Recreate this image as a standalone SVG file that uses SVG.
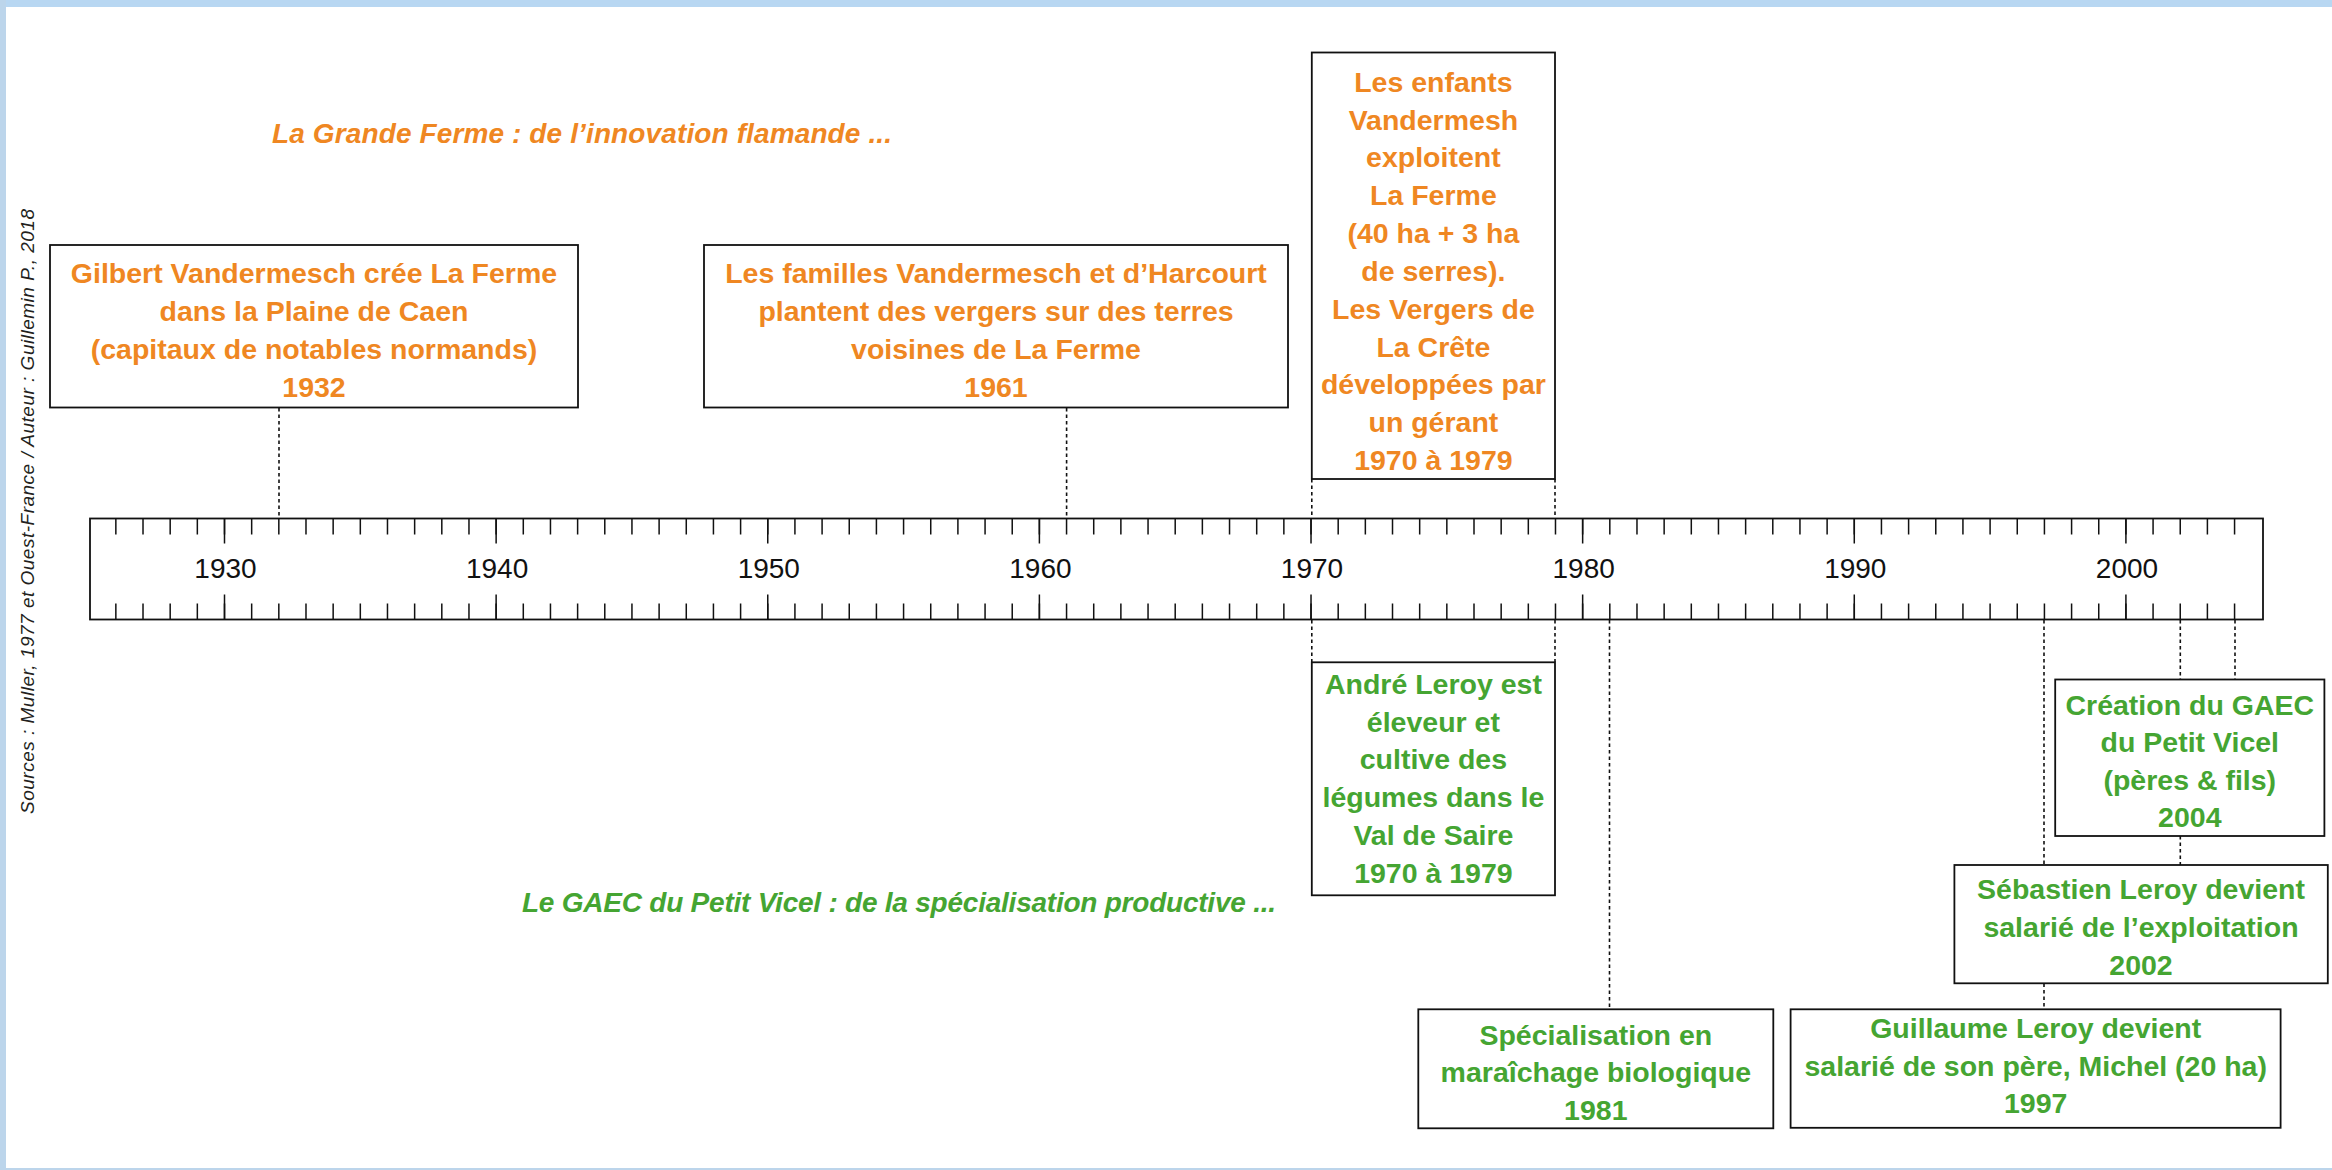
<svg xmlns="http://www.w3.org/2000/svg" width="2332" height="1170" viewBox="0 0 2332 1170">
<style>
  .box{fill:#ffffff;stroke:#111111;stroke-width:1.8}
  .or{fill:#ef8722;font-family:"Liberation Sans",Arial,sans-serif;font-weight:bold;font-size:28.5px;text-anchor:middle}
  .gr{fill:#45a532;font-family:"Liberation Sans",Arial,sans-serif;font-weight:bold;font-size:28.5px;text-anchor:middle}
  .ttl{font-family:"Liberation Sans",Arial,sans-serif;font-weight:bold;font-style:italic;font-size:28px}
  .yr{fill:#111111;font-family:"Liberation Sans",Arial,sans-serif;font-size:28px;text-anchor:middle}
  .dash{stroke:#111111;stroke-width:1.6;stroke-dasharray:3.5 3;fill:none}
  .tk{stroke:#111111;fill:none}
</style>
<rect x="0" y="0" width="2332" height="1170" fill="#ffffff"/>
<!-- frame -->
<rect x="0" y="0" width="2332" height="7" fill="#b8d7f2"/>
<rect x="0" y="0" width="6" height="1170" fill="#bcd5eb"/>
<rect x="0" y="1168" width="2332" height="2" fill="#bcd5eb"/>

<!-- source -->
<text id="sources" transform="translate(34,511.5) rotate(-90)" font-family="'Liberation Sans',Arial,sans-serif" font-style="italic" font-size="19" fill="#231f20" text-anchor="middle" textLength="605">Sources : Muller, 1977 et  Ouest-France / Auteur : Guillemin P., 2018</text>

<!-- titles -->
<text id="title-grande-ferme" class="ttl" x="272" y="143.3" fill="#ef8722" textLength="620">La Grande Ferme : de l’innovation flamande ...</text>
<text id="title-gaec" class="ttl" x="522" y="912.3" fill="#45a532" textLength="754">Le GAEC du Petit Vicel : de la spécialisation productive ...</text>

<!-- timeline -->
<g id="timeline">
  <rect x="90" y="518.5" width="2173" height="101" fill="#ffffff" stroke="#111111" stroke-width="1.8"/>
  <path class="tk" d="M115.1 526.5 H2236.2" stroke-width="16" stroke-dasharray="1.5 25.663"/>
  <path class="tk" d="M115.1 611.5 H2236.2" stroke-width="16" stroke-dasharray="1.5 25.663"/>
  <path class="tk" d="M223.75 531 H2127" stroke-width="25" stroke-dasharray="1.5 270.13"/>
  <path class="tk" d="M223.75 607 H2127" stroke-width="25" stroke-dasharray="1.5 270.13"/>
  <text class="yr" x="225.5" y="578">1930</text>
  <text class="yr" x="497.1" y="578">1940</text>
  <text class="yr" x="768.8" y="578">1950</text>
  <text class="yr" x="1040.4" y="578">1960</text>
  <text class="yr" x="1312" y="578">1970</text>
  <text class="yr" x="1583.7" y="578">1980</text>
  <text class="yr" x="1855.3" y="578">1990</text>
  <text class="yr" x="2127" y="578">2000</text>
</g>

<!-- connectors -->
<g id="connectors">
  <path class="dash" d="M279 408 V518"/>
  <path class="dash" d="M1066.6 408 V518"/>
  <path class="dash" d="M1311.8 479 V518"/>
  <path class="dash" d="M1555 479 V518"/>
  <path class="dash" d="M1311.8 620 V662"/>
  <path class="dash" d="M1555 620 V662"/>
  <path class="dash" d="M1609.5 620 V1009"/>
  <path class="dash" d="M2044 620 V865"/>
  <path class="dash" d="M2044 983.5 V1009"/>
  <path class="dash" d="M2180.3 620 V679.5"/>
  <path class="dash" d="M2180.3 836 V865"/>
  <path class="dash" d="M2235 620 V679.5"/>
</g>

<!-- nodes -->
<g id="node-1932">
  <rect class="box" x="50" y="245" width="528" height="162.5"/>
  <text class="or" x="314" y="283">Gilbert Vandermesch crée La Ferme</text>
  <text class="or" x="314" y="321">dans la Plaine de Caen</text>
  <text class="or" x="314" y="359">(capitaux de notables normands)</text>
  <text class="or" x="314" y="397">1932</text>
</g>
<g id="node-1961">
  <rect class="box" x="704" y="245" width="584" height="162.5"/>
  <text class="or" x="996" y="283">Les familles Vandermesch et d’Harcourt</text>
  <text class="or" x="996" y="321">plantent des vergers sur des terres</text>
  <text class="or" x="996" y="359">voisines de La Ferme</text>
  <text class="or" x="996" y="397">1961</text>
</g>
<g id="node-1970-ferme">
  <rect class="box" x="1311.8" y="52.5" width="243.2" height="426.5"/>
  <text class="or" x="1433.4" y="91.7">Les enfants</text>
  <text class="or" x="1433.4" y="129.5">Vandermesh</text>
  <text class="or" x="1433.4" y="167.4">exploitent</text>
  <text class="or" x="1433.4" y="205.2">La Ferme</text>
  <text class="or" x="1433.4" y="243">(40 ha + 3 ha</text>
  <text class="or" x="1433.4" y="280.9">de serres).</text>
  <text class="or" x="1433.4" y="318.7">Les Vergers de</text>
  <text class="or" x="1433.4" y="356.5">La Crête</text>
  <text class="or" x="1433.4" y="394.3">développées par</text>
  <text class="or" x="1433.4" y="432.2">un gérant</text>
  <text class="or" x="1433.4" y="470">1970 à 1979</text>
</g>
<g id="node-1970-leroy">
  <rect class="box" x="1311.8" y="662.3" width="243.2" height="233"/>
  <text class="gr" x="1433.4" y="694">André Leroy est</text>
  <text class="gr" x="1433.4" y="731.7">éleveur et</text>
  <text class="gr" x="1433.4" y="769.4">cultive des</text>
  <text class="gr" x="1433.4" y="807.1">légumes dans le</text>
  <text class="gr" x="1433.4" y="844.8">Val de Saire</text>
  <text class="gr" x="1433.4" y="882.5">1970 à 1979</text>
</g>
<g id="node-1981">
  <rect class="box" x="1418.3" y="1009.3" width="355" height="119"/>
  <text class="gr" x="1595.8" y="1044.5">Spécialisation en</text>
  <text class="gr" x="1595.8" y="1082">maraîchage biologique</text>
  <text class="gr" x="1595.8" y="1119.5">1981</text>
</g>
<g id="node-1997">
  <rect class="box" x="1790.6" y="1009.3" width="490" height="118.5"/>
  <text class="gr" x="2035.7" y="1038.3">Guillaume Leroy devient</text>
  <text class="gr" x="2035.7" y="1075.5">salarié de son père, Michel (20 ha)</text>
  <text class="gr" x="2035.7" y="1113.3">1997</text>
</g>
<g id="node-2002">
  <rect class="box" x="1954.4" y="865" width="373.4" height="118.3"/>
  <text class="gr" x="2141" y="899.3">Sébastien Leroy devient</text>
  <text class="gr" x="2141" y="937">salarié de l’exploitation</text>
  <text class="gr" x="2141" y="975">2002</text>
</g>
<g id="node-2004">
  <rect class="box" x="2055.2" y="679.5" width="269.2" height="156.5"/>
  <text class="gr" x="2189.8" y="714.7">Création du GAEC</text>
  <text class="gr" x="2189.8" y="752.2">du Petit Vicel</text>
  <text class="gr" x="2189.8" y="789.6">(pères &amp; fils)</text>
  <text class="gr" x="2189.8" y="827">2004</text>
</g>
</svg>
